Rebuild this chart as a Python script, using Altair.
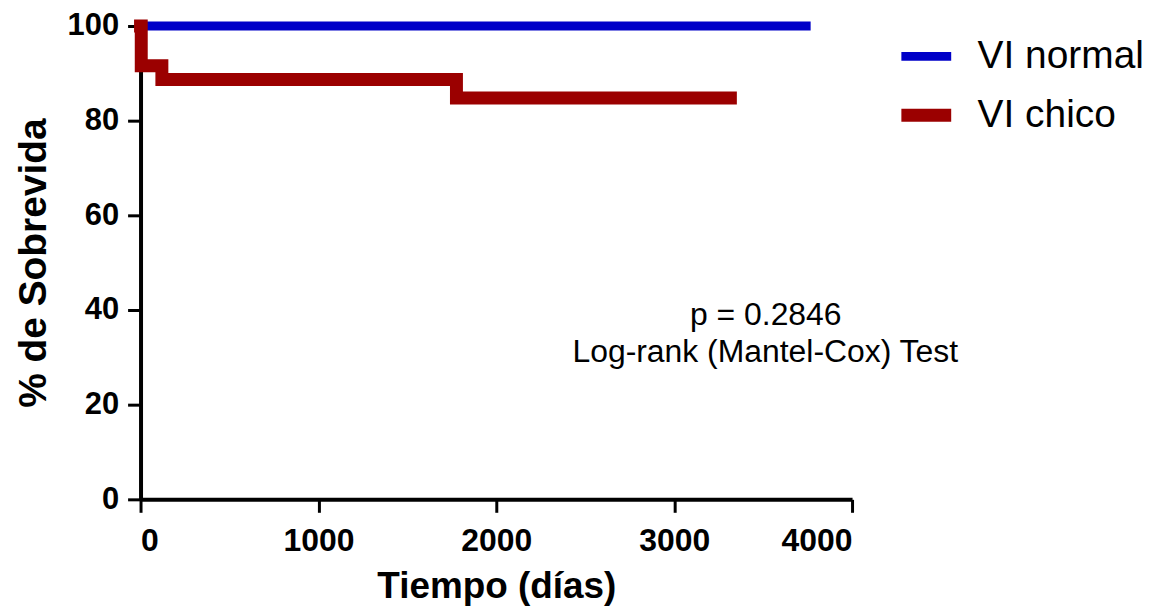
import altair as alt
import pandas as pd

# Data
normal_t = [0, 3742]
normal_s = [100, 100]
chico_t = [0, 4, 120, 1776, 3316]
chico_s = [100, 91.6, 88.7, 84.8, 84.8]
groups = ["VI normal", "VI chico"]
colors = ["#0000C8", "#9B0000"]
line_widths = [9, 13]
annot_lines = ["p = 0.2846", "Log-rank (Mantel-Cox) Test"]
annot_x = [3515, 3512]
annot_y = [36.8, 29.0]

rows = []
for t, s in zip(normal_t, normal_s):
    rows.append({"t": t, "s": s, "g": groups[0]})
for t, s in zip(chico_t, chico_s):
    rows.append({"t": t, "s": s, "g": groups[1]})
df = pd.DataFrame(rows)
ann = pd.DataFrame({"t": annot_x, "s": annot_y, "txt": annot_lines})

FONT = "Liberation Sans"

x_enc = alt.X("t:Q", scale=alt.Scale(domain=[0, 4000], nice=False),
              axis=alt.Axis(values=[0, 1000, 2000, 3000, 4000], format="d", title="Tiempo (días)",
                            grid=False, domainColor="black", domainWidth=4,
                            tickColor="black", tickWidth=3, tickSize=13,
                            labelFont=FONT, labelFontSize=32, labelFontWeight="bold",
                            labelColor="black", labelPadding=13,
                            titleFont=FONT, titleFontSize=37, titleFontWeight="bold",
                            titleColor="black", titlePadding=13))
y_enc = alt.Y("s:Q", scale=alt.Scale(domain=[0, 100], nice=False),
              axis=alt.Axis(values=[0, 20, 40, 60, 80, 100], format="d", title="% de Sobrevida",
                            grid=False, domainColor="black", domainWidth=4,
                            tickColor="black", tickWidth=3, tickSize=13,
                            labelFont=FONT, labelFontSize=31, labelFontWeight="bold",
                            labelColor="black", labelPadding=9,
                            titleFont=FONT, titleFontSize=39, titleFontWeight="bold",
                            titleColor="black", titlePadding=14))

lines = alt.Chart(df).mark_line(interpolate="step-after", strokeCap="square").encode(
    x=x_enc, y=y_enc,
    color=alt.Color("g:N", scale=alt.Scale(domain=groups, range=colors),
                    sort=groups,
                    legend=alt.Legend(title=None, orient="none", legendX=757, legendY=1,
                                      symbolType="stroke", symbolSize=2500, symbolStrokeWidth=14,
                                      labelFont=FONT, labelFontSize=39, labelColor="black",
                                      labelLimit=400, labelOffset=20, rowPadding=7)),
    strokeWidth=alt.StrokeWidth("g:N", scale=alt.Scale(domain=groups, range=line_widths),
                                legend=None),
)

text = alt.Chart(ann).mark_text(font=FONT, fontSize=32, color="black", align="center",
                                baseline="alphabetic").encode(
    x=x_enc, y=y_enc, text="txt:N"
)

chart = alt.layer(lines, text).properties(
    width=714, height=475,
    autosize=alt.AutoSizeParams(type="none"),
    padding={"left": 133, "top": 17, "right": 300, "bottom": 112},
).configure(background="white").configure_view(stroke=None)

chart.save("out.html", embed_options={"renderer": "svg", "actions": False})
